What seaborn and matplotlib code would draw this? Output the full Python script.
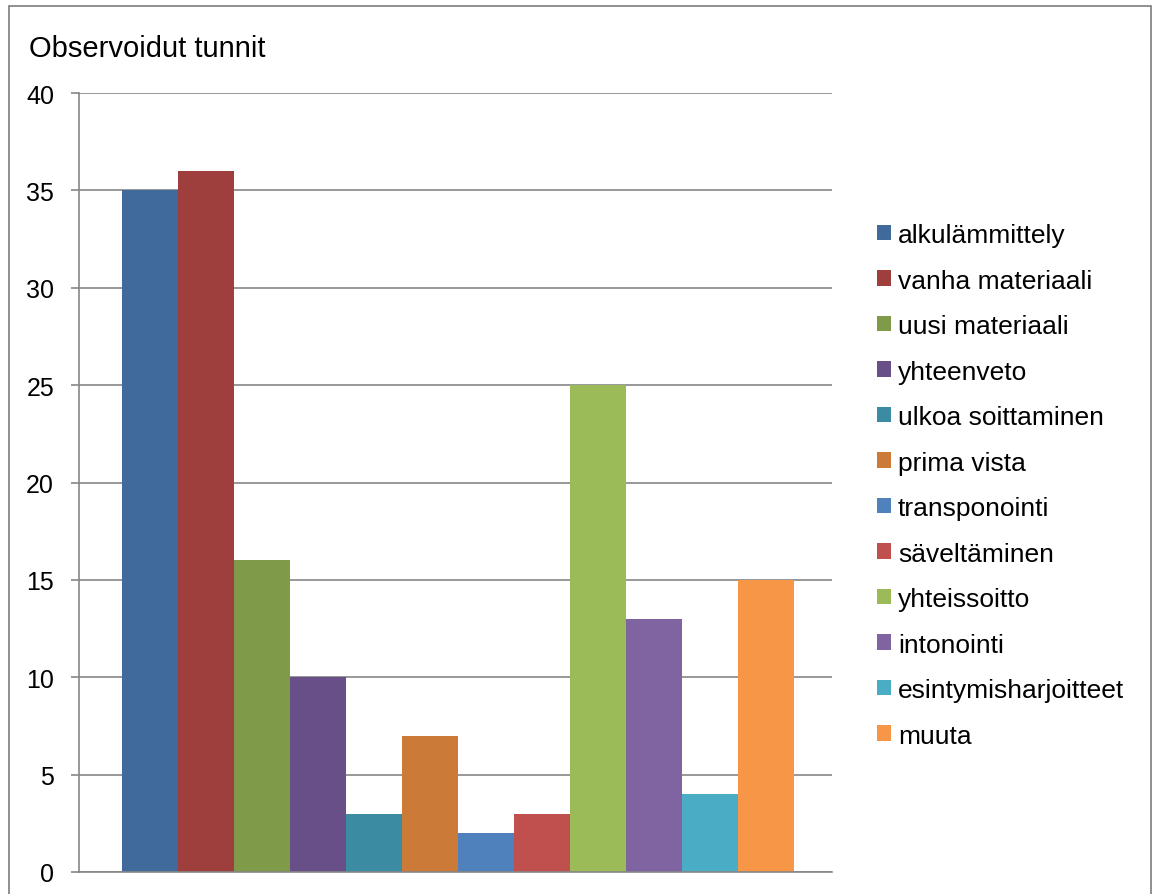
import matplotlib
matplotlib.use("Agg")
import matplotlib.pyplot as plt
import seaborn as sns
import pandas as pd
from matplotlib.patches import Rectangle, Patch

categories = ["alkulämmittely", "vanha materiaali", "uusi materiaali", "yhteenveto",
              "ulkoa soittaminen", "prima vista", "transponointi", "säveltäminen",
              "yhteissoitto", "intonointi", "esintymisharjoitteet", "muuta"]
values = [35, 36, 16, 10, 3, 7, 2, 3, 25, 13, 4, 15]
colors = ["#406A9C", "#9E3F3D", "#7F9A48", "#694F87", "#3B8CA3", "#CC7A38",
          "#4F81BD", "#C0504D", "#9BBB59", "#8064A2", "#4BACC6", "#F79646"]
yticks = [0, 5, 10, 15, 20, 25, 30, 35, 40]
title = "Observoidut tunnit"

sns.set_theme(style="white")
plt.rcParams['font.family'] = ['Liberation Sans', 'DejaVu Sans']
plt.rcParams['text.color'] = 'black'

df = pd.DataFrame({"group": [""] * len(categories), "series": categories, "value": values})

W, H = 1153, 895
fig = plt.figure(figsize=(W / 100, H / 100), dpi=100)
ax = fig.add_axes([79 / W, 1 - 873 / H, (832 - 79) / W, (873 - 94) / H])

sns.barplot(data=df, x="group", y="value", hue="series", hue_order=categories,
            palette=colors, width=672 / 753, saturation=1, ax=ax, legend=False,
            edgecolor="none", linewidth=0)

ax.set_xlim(-0.5 - 0.003, 0.5 - 0.003)
ax.set_ylim(0, 40)
ax.set_yticks(yticks)
ax.set_xlabel("")
ax.set_ylabel("")
ax.set_xticks([])
grid_c = "#868686"
ax.yaxis.grid(True, color=grid_c, linewidth=1.2)
ax.set_axisbelow(True)
for s in ["top", "right"]:
    ax.spines[s].set_visible(False)
for s in ["left", "bottom"]:
    ax.spines[s].set_color(grid_c)
    ax.spines[s].set_linewidth(1.2)
ax.tick_params(axis="y", which="major", direction="out", length=6, width=1.2,
               color=grid_c, pad=12, labelsize=18, labelcolor="black", left=True)
ax.tick_params(axis="x", bottom=False)

fig.text(29 / W, 1 - 57 / H, title, fontsize=21, ha="left", va="baseline", color="black")

handles = [Patch(facecolor=c, edgecolor="none") for c in colors]
leg = ax.legend(handles, categories, loc="upper left",
                bbox_to_anchor=(877 / W, 1 - 224 / H), bbox_transform=fig.transFigure,
                frameon=False, fontsize=19, borderpad=0, borderaxespad=0,
                handlelength=0.53, handleheight=0.53, handletextpad=0.27,
                labelspacing=0.815)
for t in leg.get_texts():
    t.set_color("black")

fig.patches.append(Rectangle((9 / W, -0.05), (1151 - 9) / W, 1.05 - 7 / H,
                             transform=fig.transFigure, fill=False,
                             edgecolor=grid_c, linewidth=1.3))

fig.savefig("out.png", dpi=100)
